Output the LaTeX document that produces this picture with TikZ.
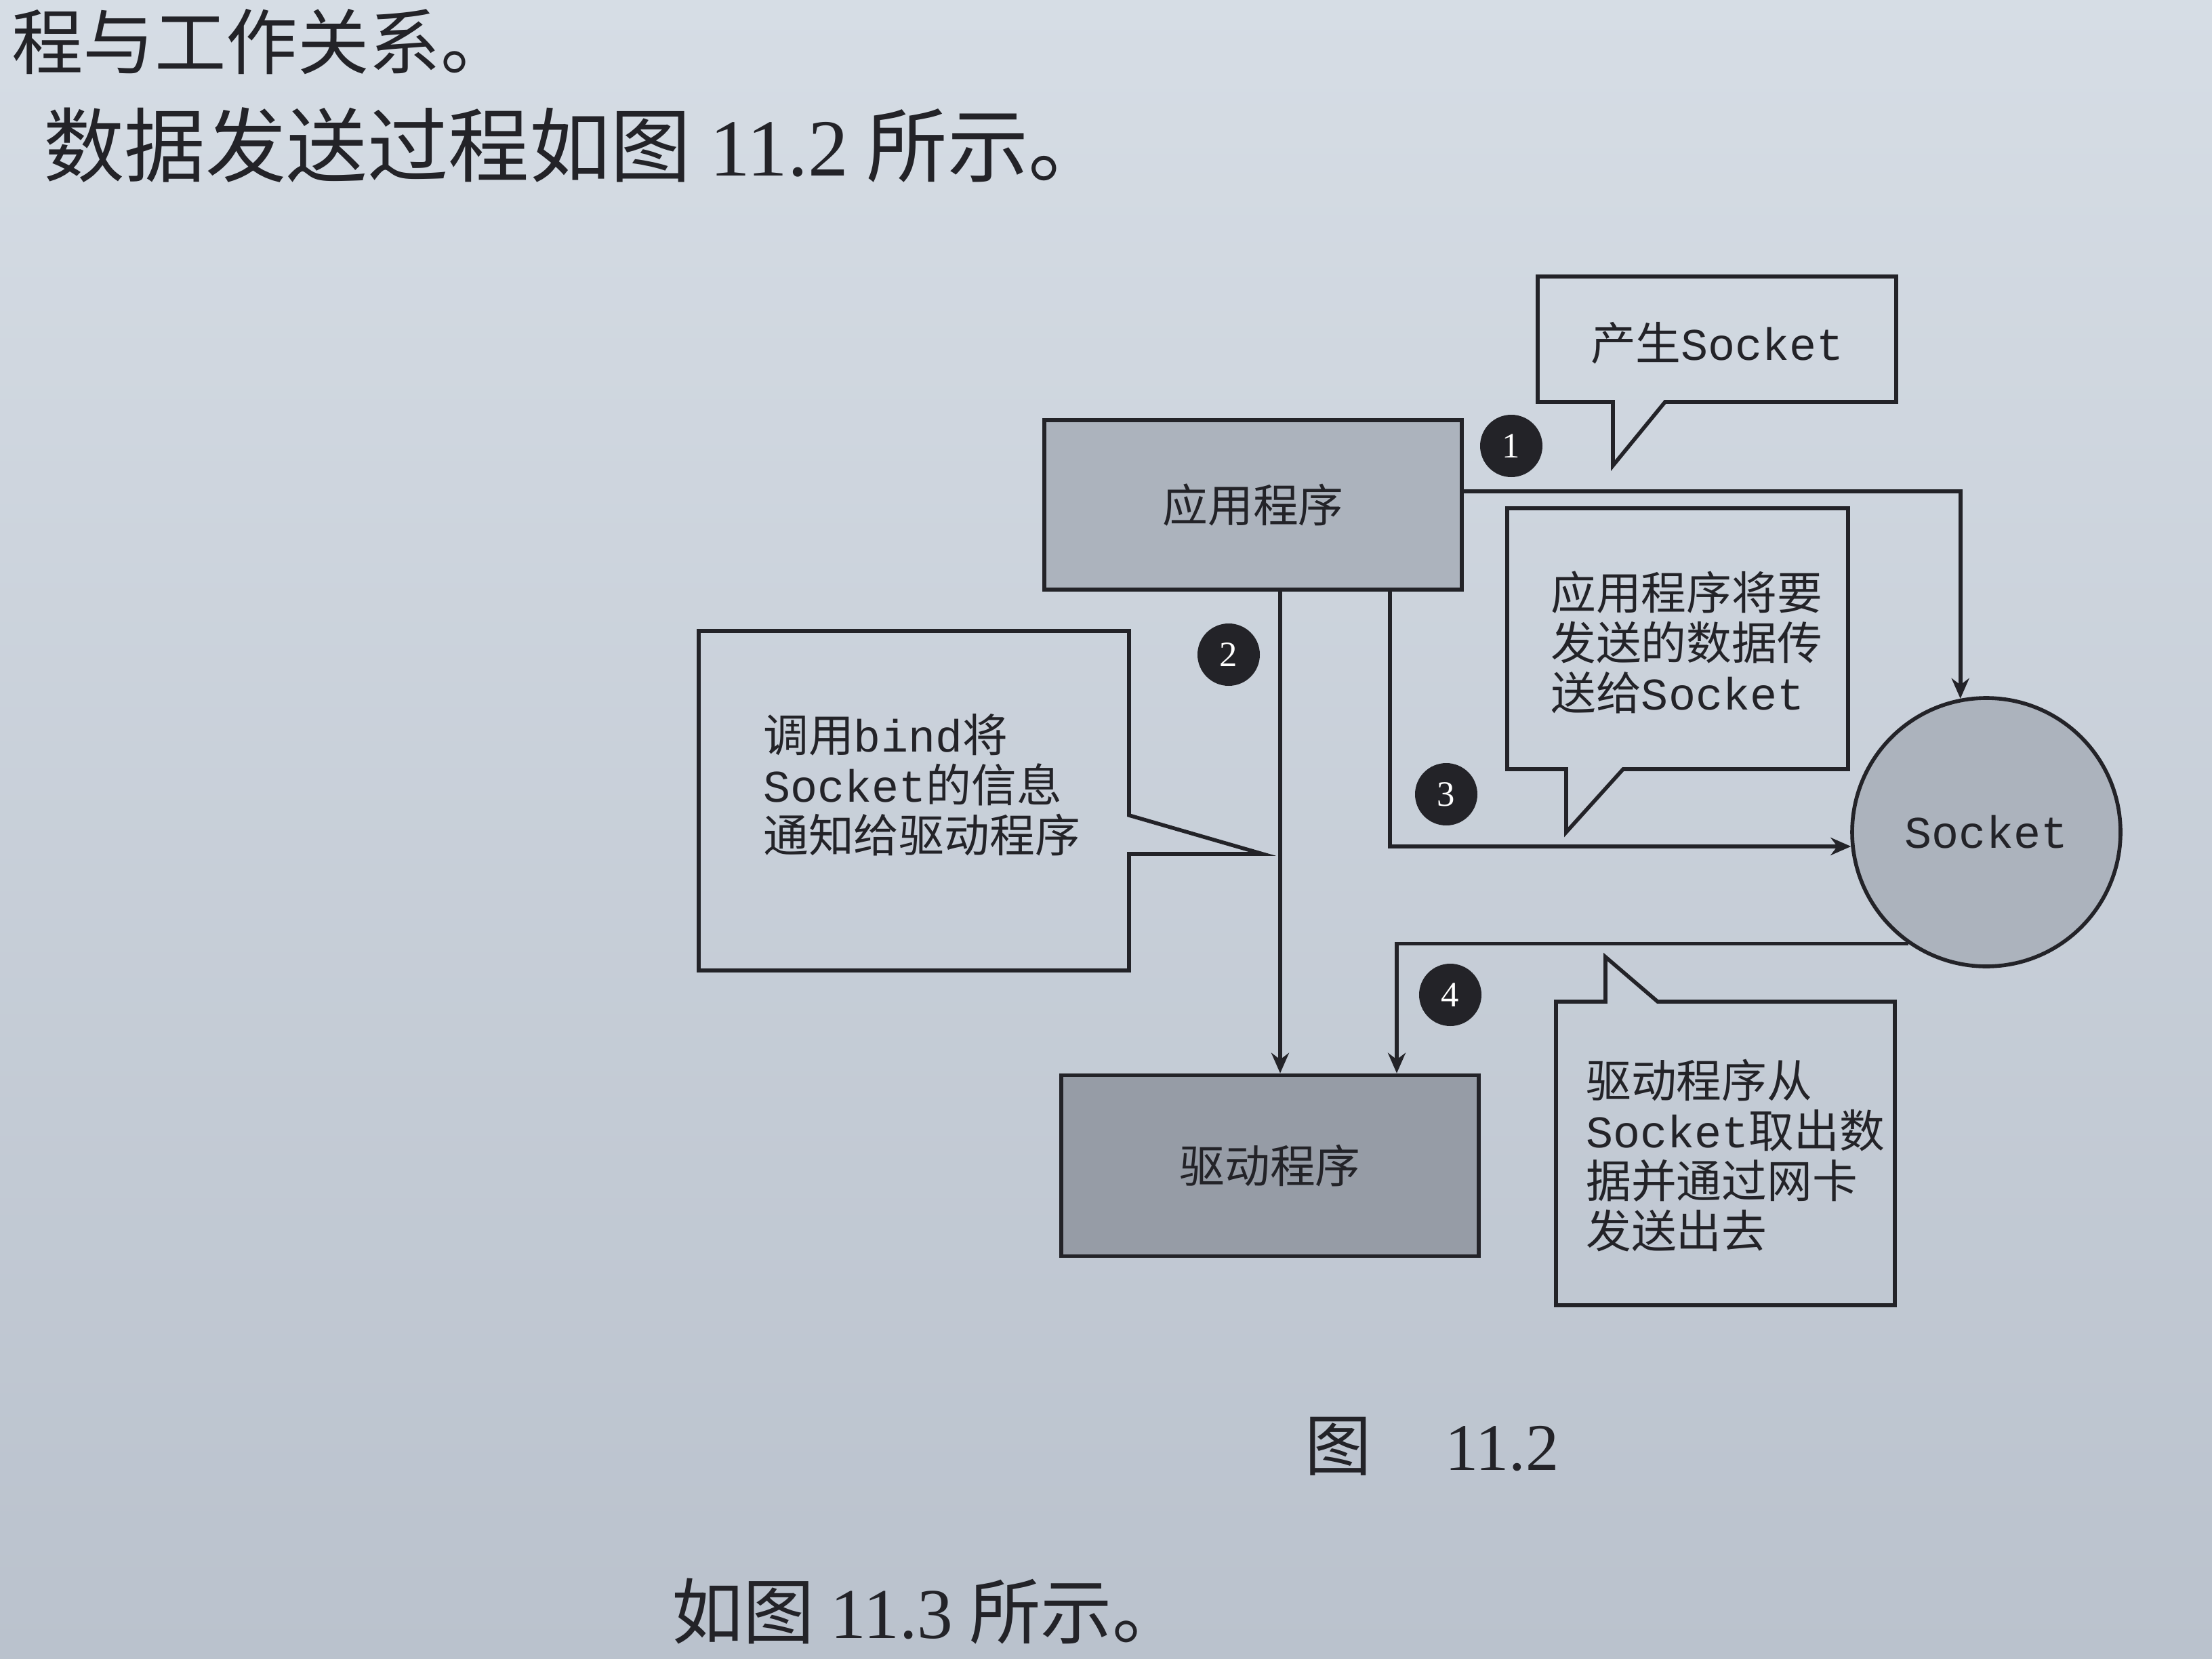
\documentclass[tikz,border=0pt]{standalone}
\usepackage{fontspec}
\usetikzlibrary{arrows.meta}
\newfontfamily\cjk{Noto Sans CJK SC}
\newfontfamily\mono{Liberation Mono}
\newfontfamily\serifnum{Liberation Serif}
\definecolor{paperlight}{RGB}{214,221,229}
\definecolor{paperdark}{RGB}{186,194,205}
\definecolor{ink}{RGB}{35,35,40}
\definecolor{boxgray}{RGB}{172,179,189}
\definecolor{drvgray}{RGB}{150,156,166}
\tikzset{
    procbox/.style={draw=ink, line width=1.6pt, minimum width=6.16cm, text=ink, font=\cjk\fontsize{19}{21}\selectfont},
    numdot/.style={circle, fill=ink, minimum size=0.92cm, inner sep=0pt, text=white, font=\serifnum\fontsize{15}{15}\selectfont},
    callout/.style={draw=ink, line width=1.6pt, line join=miter},
    note/.style={align=left, anchor=west, text=ink, font=\cjk\fontsize{19}{21}\selectfont},
    pagetext/.style={anchor=west, text=ink, font=\cjk\fontsize{34}{34}\selectfont},
    flow/.style={draw=ink, line width=1.6pt, -{Stealth[length=3mm,width=2.6mm]}}
}
\begin{document}
\begin{tikzpicture}
            \useasboundingbox (0,0) rectangle (32.64,-24.48);
            \shade[top color=paperlight, bottom color=paperdark] (0,0) rectangle (32.64,-24.48);
            \node[pagetext, font=\cjk\fontsize{30}{30}\selectfont] (lineA) at (0.05,-0.62) {程与工作关系。};
            \node[pagetext] (lineB) at (0.52,-2.14) {数据发送过程如图 {\serifnum 11.2} 所示。};
            \node[pagetext, font=\cjk\fontsize{30}{30}\selectfont] (lineC) at (9.79,-23.78) {如图 {\serifnum 11.3} 所示。};
            \draw[callout] (22.69,-4.08) -- (27.98,-4.08) -- (27.98,-5.93) -- (24.57,-5.93) -- (23.80,-6.87) -- (23.80,-5.93) -- (22.69,-5.93) -- cycle;
            \draw[callout] (22.24,-7.50) -- (27.27,-7.50) -- (27.27,-11.35) -- (23.95,-11.35) -- (23.11,-12.28) -- (23.11,-11.35) -- (22.24,-11.35) -- cycle;
            \draw[callout] (10.31,-9.31) -- (16.66,-9.31) -- (16.66,-12.03) -- (18.63,-12.60) -- (16.66,-12.60) -- (16.66,-14.32) -- (10.31,-14.32) -- cycle;
            \draw[callout] (22.96,-14.78) -- (23.69,-14.78) -- (23.69,-14.12) -- (24.46,-14.78) -- (27.96,-14.78) -- (27.96,-19.26) -- (22.96,-19.26) -- cycle;
            \node[text=ink, font=\cjk\fontsize{19}{21}\selectfont] (make) at (25.34,-5.06) {产生{\mono Socket}};
            \node[note] (pass) at (22.76,-9.48) {应用程序将要\\发送的数据传\\送给{\mono Socket}};
            \node[note] (bind) at (11.14,-11.58) {调用{\mono bind}将\\{\mono Socket}的信息\\通知给驱动程序};
            \node[note] (send) at (23.28,-17.05) {驱动程序从\\{\mono Socket}取出数\\据并通过网卡\\发送出去};
            \node[procbox, fill=boxgray, minimum height=2.5cm] (app) at (18.49,-7.45) {应用程序};
            \node[procbox, fill=drvgray, minimum height=2.67cm] (drv) at (18.74,-17.20) {驱动程序};
            \node[circle, draw=ink, line width=1.6pt, fill=boxgray, minimum size=3.96cm, text=ink, font=\mono\fontsize{19}{21}\selectfont] (sock) at (29.31,-12.28) {Socket};
            \draw[flow] ([yshift=2mm]app.east) -| (sock.101);
            \draw[flow] ([xshift=4mm]app.south) -- ([xshift=4mm]app.south |- drv.north);
            \draw[flow] ([xshift=20.2mm]app.south) |- (sock.186);
            \draw[flow] (sock.235) -| ([xshift=18.7mm]drv.north);
            \node[numdot] (n1) at (22.30,-6.58) {1};
            \node[numdot] (n2) at (18.13,-9.66) {2};
            \node[numdot] (n3) at (21.34,-11.72) {3};
            \node[numdot] (n4) at (21.40,-14.68) {4};
            \node[text=ink, font=\cjk\fontsize{28}{28}\selectfont] (cap) at (21.13,-21.34) {图\hspace{1.1em}{\serifnum 11.2}};
\end{tikzpicture}
\end{document}
